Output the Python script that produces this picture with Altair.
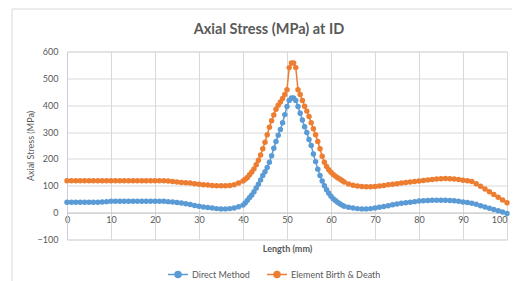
import altair as alt
import pandas as pd

# ---- data ----
x_left = list(range(0, 40))                       # 0..39 mm, step 1
x_mid = [40 + 0.5 * i for i in range(47)]         # 40..63 mm, step 0.5
x_right = list(range(64, 101))                    # 64..100 mm, step 1
length_mm = x_left + x_mid + x_right

direct_method = [
    39, 39, 39, 39, 39, 39, 39, 39, 40, 41,
    42, 42, 42, 42, 42, 42, 42, 42, 42, 42,
    42, 42, 42, 41, 40, 38, 36, 33, 30, 27,
    24, 21, 19, 17, 15, 14, 14, 15, 17, 22,
    # 40 .. 63 (step 0.5)
    28, 36, 46, 56, 66, 78, 92, 106, 122, 138,
    152, 168, 188, 212, 240, 265, 288, 310, 335, 365,
    395, 418, 427, 427, 418, 395, 370, 345, 320, 298,
    272, 250, 218, 190, 162, 138, 118, 100, 85, 72,
    61, 52, 45, 39, 33, 28, 24,
    # 64 .. 100
    20, 17, 15, 14, 14, 15, 17, 20, 23, 26,
    29, 32, 35, 37, 39, 41, 43, 44, 45, 46,
    46, 46, 46, 45, 44, 42, 40, 38, 35, 31,
    26, 21, 16, 12, 7, 2, -3,
]

birth_death = [
    119, 119, 119, 119, 119, 119, 119, 119, 119, 119,
    119, 119, 119, 119, 119, 119, 119, 119, 119, 119,
    119, 119, 119, 118, 116, 114, 112, 111, 110, 108,
    106, 104, 103, 101, 100, 100, 100, 101, 104, 110,
    # 40 .. 63 (step 0.5)
    118, 124, 131, 141, 151, 163, 178, 195, 215, 238,
    262, 290, 318, 342, 364, 385, 400, 412, 425, 440,
    458, 540, 557, 557, 540, 458, 440, 418, 396, 378,
    358, 335, 312, 290, 265, 238, 210, 188, 172, 160,
    150, 142, 136, 130, 125, 120, 114,
    # 64 .. 100
    107, 102, 99, 97, 96, 96, 97, 99, 101, 104,
    106, 108, 110, 112, 114, 116, 118, 120, 122, 123,
    125, 126, 127, 126, 125, 123, 121, 119, 116, 108,
    98, 88, 78, 68, 57, 47, 37,
]

series_names = ["Direct Method", "Element Birth & Death"]
series_colors = ["#5B9BD5", "#ED7D31"]
x_ticks = list(range(0, 101, 10))
y_ticks = list(range(-100, 601, 100))
chart_title = "Axial Stress (MPa) at ID"

rows = []
for name, vals in zip(series_names, [direct_method, birth_death]):
    for xv, yv in zip(length_mm, vals):
        rows.append({"x": xv, "y": yv, "series": name})
df = pd.DataFrame(rows)

FONT = "Lato"
GRAY = "#595959"
GRID = "#d9d9d9"
W, H = 440, 188

x_enc = alt.X(
    "x:Q",
    scale=alt.Scale(domain=[0, 100], nice=False, zero=False),
    axis=alt.Axis(
        values=x_ticks, title="Length (mm)", offset=-H / 7.0,
        ticks=False, domain=True, domainColor="#c8c8c8",
        grid=True, gridColor=GRID, labelPadding=3, labelFlush=False,
        labelAlign={"condition": {"test": "datum.value >= 100", "value": "right"}, "value": "center"},
        labelFont=FONT, labelFontSize=9, labelColor=GRAY,
        titleFont=FONT, titleFontSize=9, titleFontWeight="bold",
        titleColor=GRAY, titlePadding=20,
    ),
)
y_enc = alt.Y(
    "y:Q",
    scale=alt.Scale(domain=[-100, 600], nice=False, zero=False),
    axis=alt.Axis(
        values=y_ticks, title="Axial Stress (MPa)",
        ticks=False, domain=True, domainColor="#c5d0de",
        grid=True, gridColor=GRID, labelPadding=9,
        labelFont=FONT, labelFontSize=9, labelColor=GRAY,
        titleFont=FONT, titleFontSize=9, titleFontWeight="normal",
        titleColor=GRAY, titlePadding=2,
    ),
)

one = alt.Data(values=[{"t": chart_title}])

frame = alt.Chart(one).mark_rect(
    fillOpacity=0, stroke=GRID, strokeWidth=1
).encode(
    x=alt.value(-55), x2=alt.value(470),
    y=alt.value(-42.5), y2=alt.value(250),
)

title_mark = alt.Chart(one).mark_text(
    font=FONT, fontSize=14.5, fontWeight="bold", color=GRAY,
    align="center", baseline="alphabetic",
).encode(x=alt.value(202), y=alt.value(-18), text="t:N")

base = alt.Chart(df)

# legend key: a short line with a (ring-filled) circle marker on it
legend_path = (
    "M-1,0L1,0"
    "M0.3,0A0.3,0.3,0,1,1,-0.3,0A0.3,0.3,0,1,1,0.3,0"
    "M0.15,0A0.15,0.15,0,1,1,-0.15,0A0.15,0.15,0,1,1,0.15,0"
)
leg = alt.Legend(
    orient="none", legendX=100, legendY=212, direction="horizontal",
    title=None, symbolType=legend_path, symbolSize=400,
    symbolStrokeWidth=1.5, symbolOpacity=1,
    labelFont=FONT, labelFontSize=9, labelColor=GRAY,
    labelOffset=3, columnPadding=14,
)

color_scale = alt.Scale(domain=series_names, range=series_colors)

lines = base.mark_line(strokeWidth=1.5).encode(
    x=x_enc, y=y_enc,
    color=alt.Color("series:N", scale=color_scale, legend=leg),
)

points = base.mark_circle(size=30, opacity=1).encode(
    x=x_enc, y=y_enc,
    color=alt.Color("series:N", scale=color_scale, legend=None),
)

chart = alt.layer(frame, lines, points, title_mark).properties(
    width=W, height=H,
    autosize=alt.AutoSizeParams(type="none"),
    padding={"left": 59, "top": 43.5, "right": 5, "bottom": 41.5},
).configure_view(strokeWidth=0).configure(background="white")

chart.save("out.html", embed_options={"renderer": "svg", "actions": False})
